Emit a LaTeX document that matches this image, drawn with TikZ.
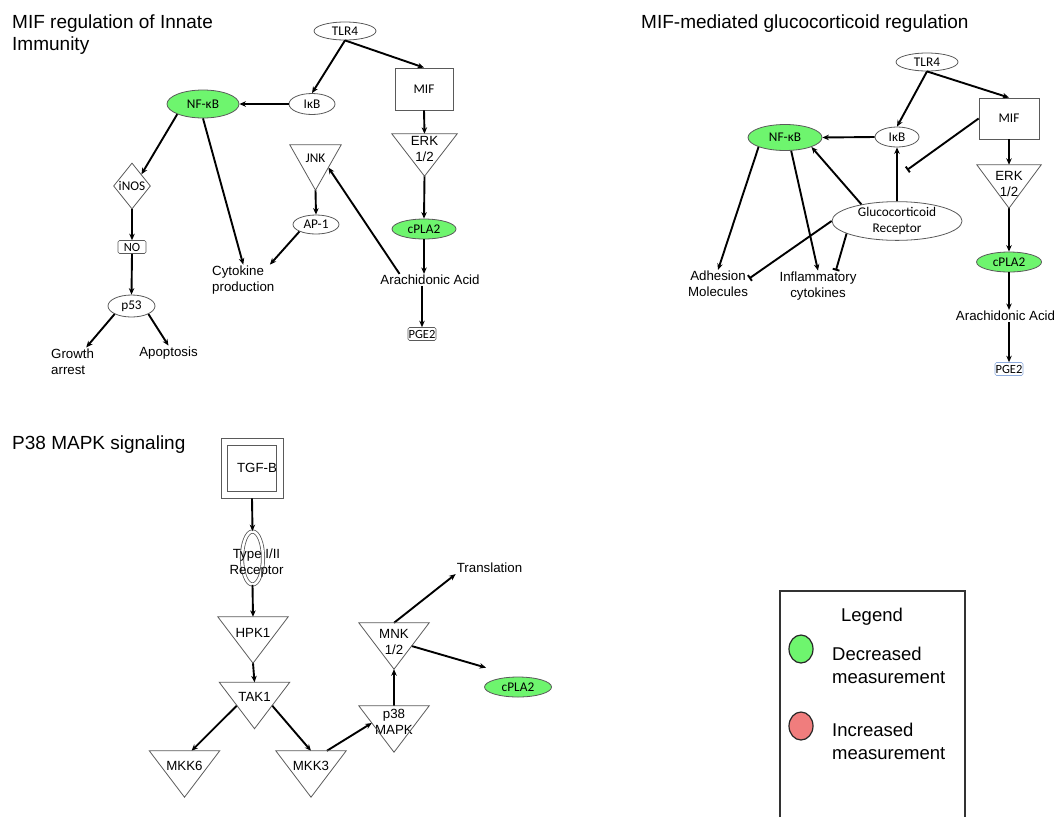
\documentclass[tikz,border=0pt]{standalone}
\usepackage{fontspec}
\setmainfont{Liberation Sans}
\newfontfamily\genefont{Carlito}
\usetikzlibrary{shapes.geometric,arrows.meta,positioning,calc}
\definecolor{decgreen}{RGB}{110,245,110}
\definecolor{incred}{RGB}{240,125,125}
\definecolor{nodegray}{RGB}{90,90,90}
\definecolor{pgeblue}{RGB}{140,170,220}
\newcommand{\lblfont}{\fontsize{13.3}{16}\selectfont}
\newcommand{\genelbl}{\genefont\fontsize{13.3}{16}\selectfont}
\newcommand{\legfont}{\fontsize{18.5}{23}\selectfont}
\newcommand{\ttlfont}{\fontsize{19}{22}\selectfont}

\begin{document}
\begin{tikzpicture}[
    x=1pt, y=-1pt,
    title/.style={font=\ttlfont, align=left, anchor=north west, inner sep=0pt},
    gene/.style 2 args={ellipse, draw=nodegray, line width=0.8pt, inner sep=0pt,
        minimum width=#1pt, minimum height=#2pt, font=\genelbl, align=center},
    decr/.style={fill=decgreen},
    pbox/.style={rectangle, draw=nodegray, line width=0.8pt, inner sep=0pt,
        minimum width=58pt, minimum height=42pt, font=\genelbl},
    kinase/.style={rectangle, inner sep=0pt, minimum width=70pt, minimum height=46pt,
        align=center, font=\lblfont, text depth=#1},
    kinline/.style={draw=nodegray, line width=0.8pt},
    enzyme/.style={diamond, draw=nodegray, line width=0.8pt, inner sep=0pt,
        minimum width=37pt, minimum height=46pt, font=\genelbl},
    chem/.style={rectangle, draw=nodegray, rounded corners=1.5pt, line width=0.6pt,
        minimum width=28pt, minimum height=13pt, inner sep=0pt,
        font=\genefont\fontsize{12.5}{14}\selectfont},
    lbl/.style={font=\lblfont, align=center, inner sep=1pt},
    tgfbox/.style={rectangle, draw=nodegray, line width=0.8pt,
        minimum width=62pt, minimum height=60pt, inner sep=0pt, font=\lblfont},
    rcptor/.style={ellipse, draw=nodegray, double, double distance=2.5pt, line width=0.8pt,
        minimum width=21pt, minimum height=53pt, inner sep=0pt},
    legdot/.style={ellipse, draw=black!85, line width=1.2pt, minimum width=24pt,
        minimum height=28pt, inner sep=0pt},
    legtext/.style={font=\legfont, align=left, anchor=west, inner sep=0pt},
    arr/.style={-{Stealth[length=6.5pt, width=5.5pt]}, line width=1.9pt},
    inh/.style={-{Bar[width=7pt]}, line width=1.9pt}
]
    \useasboundingbox (0,0) rectangle (1056,817);

    % MIF regulation of innate immunity
    \node[title] (ttla) at (12,15) {MIF regulation of Innate\\Immunity};
    \node[gene={62}{18}] (tlra) at (345,31) {TLR4};
    \node[gene={46}{21}] (ikba) at (312,104) {IκB};
    \node[gene={72}{28}, decr] (nfkba) at (203,104) {NF-κB};
    \node[pbox] (mifa) at (424,89) {MIF};
    \node[kinase=19pt, minimum width=51pt, minimum height=45pt, font=\genelbl] (jnk) at (315.5,167.5) {JNK};
    \node[kinase=13pt, minimum width=65pt, minimum height=42pt] (erka) at (424.5,155) {ERK\\1/2};
    \node[enzyme] (inos) at (132,186) {\makebox[0pt]{iNOS}};
    \node[chem] (noa) at (132,247) {\makebox[0pt]{NO}};
    \node[gene={47}{22}] (ptfs) at (131.5,306) {p53};
    \node[gene={64}{20}, decr] (cplaa) at (424,229) {cPLA2};
    \node[gene={46}{19}] (apone) at (316,224.5) {AP-1};
    \node[lbl, align=left, anchor=west] (cytoa) at (211,280) {Cytokine\\production};
    \node[lbl] (araa) at (430,280) {Arachidonic Acid};
    \node[chem] (pgea) at (422,334) {\makebox[0pt]{PGE2}};
    \node[lbl, align=left, anchor=west] (grow) at (50,361.5) {Growth\\arrest};
    \node[lbl] (apop) at (168.5,353) {Apoptosis};

    \draw[arr] (tlra.south) -- (ikba.north);
    \draw[arr] (tlra.south) -- (mifa.north);
    \draw[arr] (ikba.west) -- (nfkba.east);
    \draw[arr] (nfkba.south west) -- (inos.north east);
    \draw[arr] (nfkba.south) -- (cytoa.north);
    \draw[arr] (inos.south) -- (noa.north);
    \draw[arr] (noa.south) -- (ptfs.north);
    \draw[arr] (ptfs.south west) -- ($(grow.north)!0.6!(grow.north east)$);
    \draw[arr] (ptfs.south east) -- (apop.north);
    \draw[arr] (jnk.south) -- (apone.north);
    \draw[arr] (apone.south west) -- (cytoa.30);
    \draw[arr] ($(araa.north west)!0.2!(araa.north east)$) -- ($(jnk.north east)!0.5!(jnk.south)$);
    \draw[arr] (mifa.south) -- (erka.north);
    \draw[arr] (erka.south) -- (cplaa.north);
    \draw[arr] (cplaa.south) -- (cplaa.south |- araa.north);
    \draw[arr] (araa.south -| pgea.north) -- (pgea.north);

    % MIF-mediated glucocorticoid regulation
    \node[title] (ttlb) at (641,15) {MIF-mediated glucocorticoid regulation};
    \node[gene={62}{18}] (tlrb) at (927,62) {TLR4};
    \node[pbox, minimum width=60pt, minimum height=41pt] (mifb) at (1009,118.5) {MIF};
    \node[gene={44}{20}] (ikbb) at (897,137) {IκB};
    \node[gene={74}{26}, decr] (nfkbb) at (785,137.5) {NF-κB};
    \node[kinase=5pt, minimum width=64pt, minimum height=43pt] (erkb) at (1009,186.5) {ERK\\1/2};
    \node[gene={130}{33}] (gcr) at (897,221) {Glucocorticoid\\Receptor};
    \node[gene={65}{20}, decr] (cplab) at (1009,262) {cPLA2};
    \node[lbl] (adhe) at (718,284) {Adhesion\\Molecules};
    \node[lbl] (infl) at (818,286) {Inflammatory\\cytokines};
    \node[lbl] (arab) at (1005.5,316) {Arachidonic Acid};
    \node[chem, draw=pgeblue] (pgeb) at (1009,369) {\makebox[0pt]{PGE2}};
    \coordinate (mifstop) at (907,170);

    \draw[arr] (tlrb.south) -- (ikbb.north);
    \draw[arr] (tlrb.south) -- (mifb.north);
    \draw[arr] (ikbb.west) -- (nfkbb.east);
    \draw[inh] (mifb.west) -- (mifstop);
    \draw[arr] (gcr.north) -- (ikbb.south);
    \draw[arr] (gcr.155) -- (nfkbb.south east);
    \draw[arr] (nfkbb.south west) -- (adhe.north);
    \draw[arr] (nfkbb.-65) -- (infl.north);
    \draw[inh] (gcr.west) -- (adhe.10);
    \draw[inh] (gcr.194) -- ($(infl.north)!0.45!(infl.north east)$);
    \draw[arr] (mifb.south) -- (erkb.north);
    \draw[arr] (erkb.south) -- (cplab.north);
    \draw[arr] (cplab.south) -- (cplab.south |- arab.north);
    \draw[arr] (arab.south -| pgeb.north) -- (pgeb.north);

    % P38 MAPK signaling
    \node[title] (ttlc) at (12,436) {P38 MAPK signaling};
    \node[tgfbox] (tgfb) at (252,468) {\hspace{10pt}TGF-B};
    \draw[kinline] ([shift={(7,8)}]tgfb.north west) rectangle ([shift={(-7,-7)}]tgfb.south east);
    \node[rcptor] (rcp) at (252.5,558) {};
    \node[lbl] (rcpt) at (256.5,563) {Type I/II\\Receptor};
    \node[kinase=14pt] (hpk) at (253,640) {HPK1};
    \node[kinase=17pt] (tak) at (254.5,705.5) {TAK1};
    \node[kinase=16pt] (mkkb) at (184.5,774) {MKK6};
    \node[kinase=16pt] (mkkc) at (311,774) {MKK3};
    \node[kinase=14pt] (ptem) at (394,729) {p38\\MAPK};
    \node[kinase=8pt] (mnk) at (394,646) {MNK\\1/2};
    \node[gene={67}{20}, decr] (cplac) at (518,687) {cPLA2};
    \node[lbl] (trans) at (489.5,568) {Translation};

    \draw[arr] (tgfb.south) -- (rcp.north);
    \draw[arr] (rcp.south) -- (hpk.north);
    \draw[arr] (hpk.south) -- (tak.north);
    \draw[arr] ($(tak.north west)!0.5!(tak.south)$) -- ($(mkkb.north)!0.2!(mkkb.north east)$);
    \draw[arr] ($(tak.north east)!0.5!(tak.south)$) -- (mkkc.north);
    \draw[arr] ($(mkkc.north)!0.45!(mkkc.north east)$) -- ($(ptem.north west)!0.37!(ptem.south)$);
    \draw[arr] (ptem.north) -- (mnk.south);
    \draw[arr] ($(mnk.north east)!0.5!(mnk.south)$) -- ([shift={(-8,-12)}]cplac.north west);
    \draw[arr] (mnk.north) -- (trans.south west);

    % kinase triangles
    \foreach \k in {jnk,erka,erkb,hpk,tak,mkkb,mkkc,ptem,mnk}
        \draw[kinline] (\k.north west) -- (\k.north east) -- (\k.south) -- cycle;

    % legend
    \draw[line width=1.2pt, draw=black!80] (780,817) -- (780,591) -- (965,591) -- (965,817);
    \node[font=\legfont] (legt) at (872,617) {Legend};
    \node[legdot, fill=decgreen] (legdec) at (801,649) {};
    \node[legtext] (legdect) at (832,665) {Decreased\\measurement};
    \node[legdot, fill=incred] (leginc) at (801,726) {};
    \node[legtext] (leginct) at (832,741.5) {Increased\\measurement};
\end{tikzpicture}
\end{document}
